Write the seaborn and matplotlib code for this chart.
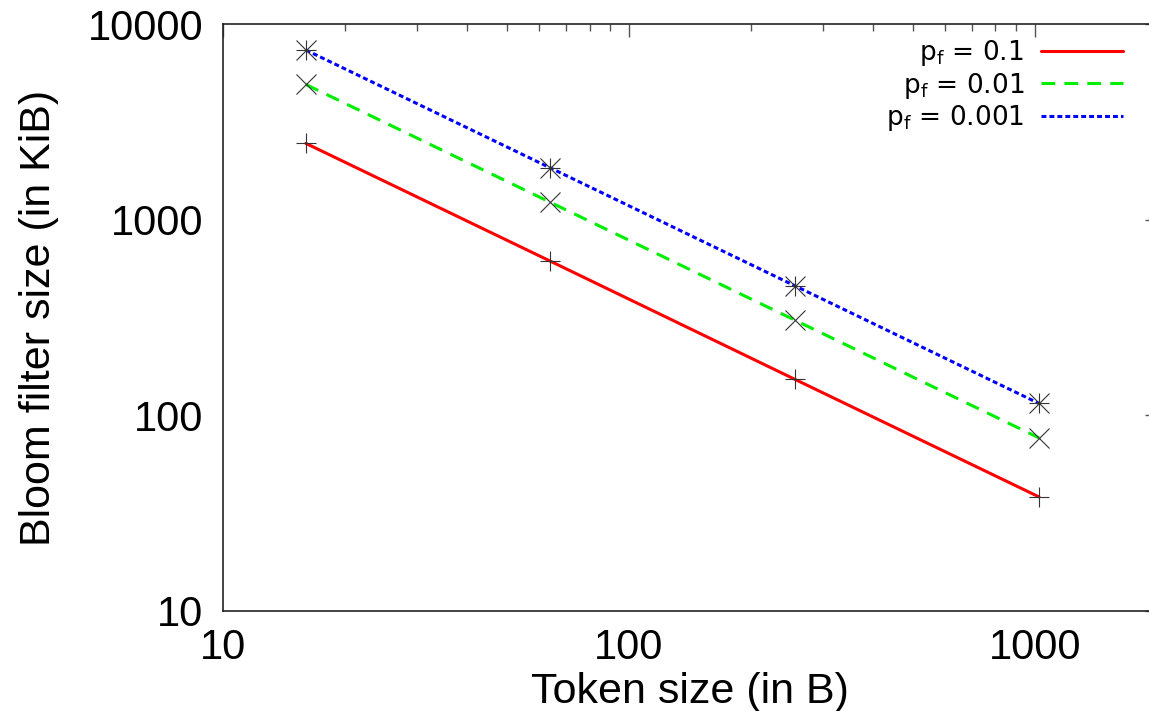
import numpy as np
import pandas as pd
import matplotlib
matplotlib.use('Agg')
import matplotlib.pyplot as plt
from matplotlib.ticker import LogLocator, FuncFormatter, NullFormatter
import seaborn as sns

# Data: bloom filter size for 64 MiB of tokens
token_sizes = [16, 64, 256, 1024]
size_p1 = [2454, 614, 153, 38.3]
size_p01 = [4908, 1227, 307, 76.7]
size_p001 = [7362, 1840, 460, 115]
labels = [r'$\mathregular{p_f}$ = 0.1', r'$\mathregular{p_f}$ = 0.01', r'$\mathregular{p_f}$ = 0.001']
colors = ['#ff0000', '#00ee00', '#0000ff']

df = pd.DataFrame({
    'token': token_sizes * 3,
    'size': size_p1 + size_p01 + size_p001,
    'series': [labels[0]] * 4 + [labels[1]] * 4 + [labels[2]] * 4,
})

sns.set_style('white')
plt.rcParams['font.family'] = ['Liberation Sans', 'DejaVu Sans']
plt.rcParams['mathtext.fontset'] = 'dejavusans'
plt.rcParams['text.color'] = 'black'
plt.rcParams['axes.labelcolor'] = 'black'
plt.rcParams['xtick.labelcolor'] = 'black'
plt.rcParams['ytick.labelcolor'] = 'black'

fig = plt.figure(figsize=(11.49, 7.11), dpi=100)
ax = fig.add_axes([223 / 1149, 100 / 711, 934 / 1149, 587 / 711])

sns.lineplot(data=df, x='token', y='size', hue='series', style='series',
             palette=dict(zip(labels, colors)),
             dashes={labels[0]: '', labels[1]: (4.5, 3), labels[2]: (1.6, 1.0)},
             linewidth=2.2, ax=ax, legend=False)

# gnuplot-like point markers
mk = dict(linestyle='none', color='#333333', markersize=15, markeredgewidth=0.8)
ax.plot(token_sizes, size_p1, marker='+', **mk)
ax.plot(token_sizes, size_p01, marker='x', **mk)
ax.plot(token_sizes, size_p001, marker='+', **mk)
ax.plot(token_sizes, size_p001, marker='x', **mk)

ax.set_xscale('log')
ax.set_yscale('log')
ax.set_xlim(10, 2000)
ax.set_ylim(10, 10000)

fmt = FuncFormatter(lambda v, p: '%d' % v)
ax.xaxis.set_major_locator(LogLocator(base=10, numticks=10))
ax.yaxis.set_major_locator(LogLocator(base=10, numticks=10))
ax.xaxis.set_minor_locator(LogLocator(base=10, subs=np.arange(2, 10), numticks=50))
ax.yaxis.set_minor_locator(LogLocator(base=10, subs=np.arange(2, 10), numticks=50))
ax.xaxis.set_major_formatter(fmt)
ax.yaxis.set_major_formatter(fmt)
ax.xaxis.set_minor_formatter(NullFormatter())
ax.yaxis.set_minor_formatter(NullFormatter())

ax.tick_params(which='both', direction='in', top=True, right=True, color='#555555',
               labelsize=30, width=1)
ax.tick_params(which='major', length=9)
ax.tick_params(which='minor', length=5)
ax.tick_params(axis='x', pad=12)
ax.tick_params(axis='y', pad=14)
for s in ax.spines.values():
    s.set_color('#222222')
    s.set_linewidth(1.2)

ax.set_xlabel('Token size (in B)', fontsize=31, labelpad=3)
ax.set_ylabel('Bloom filter size (in KiB)', fontsize=31, labelpad=21)

handles = [plt.Line2D([], [], color=colors[0], lw=2.2),
           plt.Line2D([], [], color=colors[1], lw=2.2, dashes=(4.5, 3)),
           plt.Line2D([], [], color=colors[2], lw=2.2, dashes=(1.6, 1.0))]
leg = ax.legend(handles, labels, loc='upper right', bbox_to_anchor=(1123 / 1149, 1 - 38 / 711),
                bbox_transform=fig.transFigure, frameon=False, markerfirst=False,
                borderpad=0, borderaxespad=0, handlelength=3.1, handletextpad=0.65,
                labelspacing=0.1, prop={'family': 'DejaVu Sans', 'size': 19})
for t in leg.get_texts():
    t.set_ha('right')

fig.savefig('out.png', dpi=100)
